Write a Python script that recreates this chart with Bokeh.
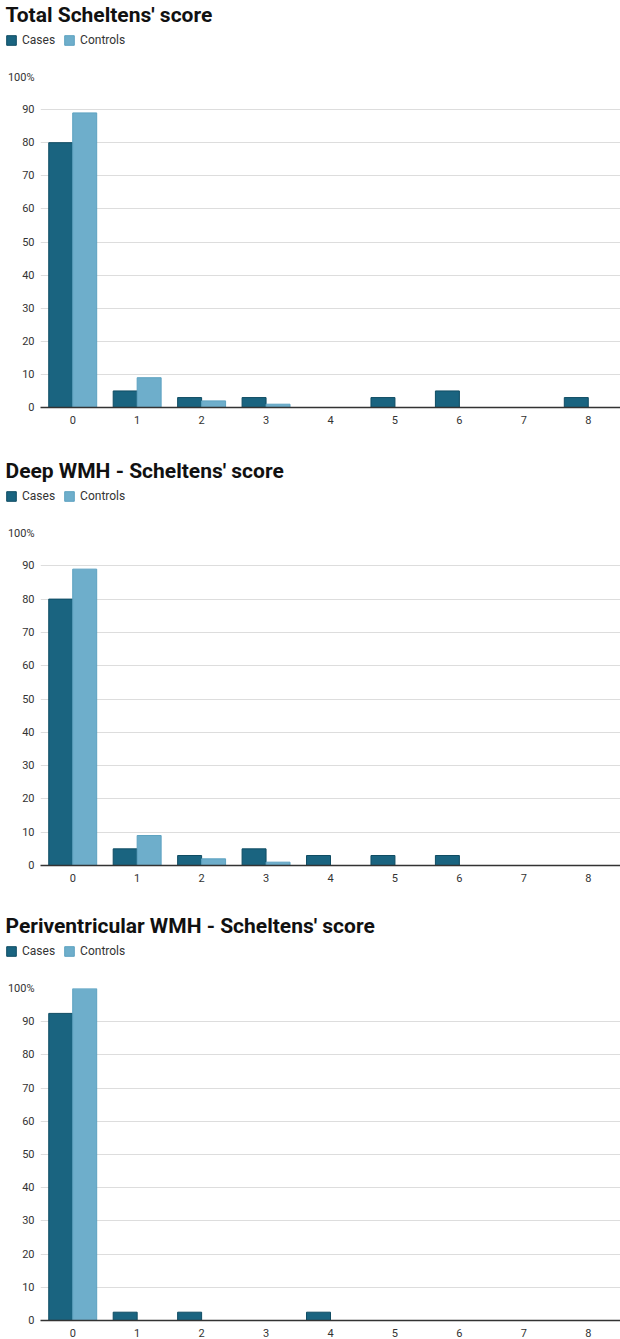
from bokeh.plotting import figure
from bokeh.models import (ColumnDataSource, FixedTicker, Legend, LegendItem, Range1d,
                          Label)
from bokeh.transform import dodge
from bokeh.layouts import column, row
from bokeh.embed import file_html
from bokeh.resources import INLINE

scores = ["0", "1", "2", "3", "4", "5", "6", "7", "8"]
series_names = ["Cases", "Controls"]

total_cases = [80, 5, 3, 3, 0, 3, 5, 0, 3]
total_controls = [89, 9, 2, 1, 0, 0, 0, 0, 0]

deep_cases = [80, 5, 3, 5, 3, 3, 3, 0, 0]
deep_controls = [89, 9, 2, 1, 0, 0, 0, 0, 0]

peri_cases = [92.5, 2.5, 2.5, 0, 2.5, 0, 0, 0, 0]
peri_controls = [100, 0, 0, 0, 0, 0, 0, 0, 0]

y_ticks = [0, 10, 20, 30, 40, 50, 60, 70, 80, 90, 100]

titles = ["Total Scheltens' score", "Deep WMH - Scheltens' score",
          "Periventricular WMH - Scheltens' score"]

CASE_FILL = "#1a6480"
CASE_LINE = "#0f4c63"
CTRL_FILL = "#6eaecb"
CTRL_LINE = "#5da2c1"
FONT = "Roboto"
W = 620
HEADER_H = 70


def make_header(title):
    h = figure(x_range=Range1d(0, W), y_range=Range1d(HEADER_H, 0), width=W,
               height=HEADER_H, output_backend="svg", toolbar_location=None,
               min_border=0, x_axis_location=None, y_axis_location=None)
    h.outline_line_color = None
    h.xgrid.grid_line_color = None
    h.ygrid.grid_line_color = None
    h.add_layout(Label(x=5, y=14, text=title, text_font=FONT, text_font_size="21px",
                       text_font_style="bold", text_color="#111111",
                       text_baseline="alphabetic", text_align="left"))
    key = ColumnDataSource(dict(x=[0], top=[0]))
    g1 = h.vbar(x="x", top="top", width=0, source=key, fill_color=CASE_FILL,
                line_color=CASE_LINE, line_width=1, visible=False)
    g2 = h.vbar(x="x", top="top", width=0, source=key, fill_color=CTRL_FILL,
                line_color=CTRL_LINE, line_width=1, visible=False)
    legend = Legend(items=[LegendItem(label=series_names[0], renderers=[g1]),
                           LegendItem(label=series_names[1], renderers=[g2])],
                    orientation="horizontal", location=(5, HEADER_H - 47))
    legend.label_text_font = FONT
    legend.label_text_font_size = "12px"
    legend.label_text_color = "#333333"
    legend.glyph_width = 12
    legend.glyph_height = 12
    legend.label_standoff = 5
    legend.spacing = 8
    legend.padding = 0
    legend.margin = 0
    legend.border_line_alpha = 0
    legend.background_fill_alpha = 0
    legend.inactive_fill_alpha = 0
    legend.label_height = 12
    h.add_layout(legend, "center")
    return h


def make_chart(cases, controls, height, min_top, min_bottom):
    src = ColumnDataSource(dict(score=scores, cases=cases, controls=controls))
    p = figure(x_range=scores, y_range=Range1d(0, 100), width=W, height=height,
               output_backend="svg", toolbar_location=None,
               min_border_left=40, min_border_right=0,
               min_border_top=min_top, min_border_bottom=min_bottom)

    p.vbar(x=dodge("score", -0.186, range=p.x_range), top="cases", width=0.372,
           source=src, fill_color=CASE_FILL, line_color=CASE_LINE, line_width=1)
    p.vbar(x=dodge("score", 0.186, range=p.x_range), top="controls", width=0.372,
           source=src, fill_color=CTRL_FILL, line_color=CTRL_LINE, line_width=1)

    p.outline_line_color = None
    p.xgrid.grid_line_color = None
    p.ygrid.grid_line_color = "#dddddd"
    p.ygrid.grid_line_width = 1
    p.ygrid.ticker = FixedTicker(ticks=y_ticks)

    p.yaxis.ticker = FixedTicker(ticks=y_ticks)
    p.yaxis.major_label_overrides = {100: "100%"}
    p.yaxis.axis_line_color = None
    p.yaxis.major_tick_line_color = None
    p.yaxis.minor_tick_line_color = None
    p.yaxis.major_tick_out = 0
    p.yaxis.major_tick_in = 0
    p.yaxis.major_label_text_font = FONT
    p.yaxis.major_label_text_font_size = "11px"
    p.yaxis.major_label_text_color = "#333333"
    p.yaxis.major_label_standoff = 6

    p.xaxis.axis_line_color = "#333333"
    p.xaxis.axis_line_width = 1.5
    p.xaxis.major_tick_line_color = None
    p.xaxis.minor_tick_line_color = None
    p.xaxis.major_tick_out = 0
    p.xaxis.major_tick_in = 0
    p.xaxis.major_label_text_font = FONT
    p.xaxis.major_label_text_font_size = "11px"
    p.xaxis.major_label_text_color = "#333333"
    p.xaxis.major_label_standoff = 8
    p.x_range.range_padding = 0
    return p


h1 = make_header(titles[0])
p1 = make_chart(total_cases, total_controls, 386, 6, 49)
h2 = make_header(titles[1])
p2 = make_chart(deep_cases, deep_controls, 385, 6, 46)
h3 = make_header(titles[2])
p3 = make_chart(peri_cases, peri_controls, 358, 7, 19)

layout = column(row(h1), p1, row(h2), p2, row(h3), p3, spacing=0)
open("out.html", "w").write(file_html(layout, INLINE))
